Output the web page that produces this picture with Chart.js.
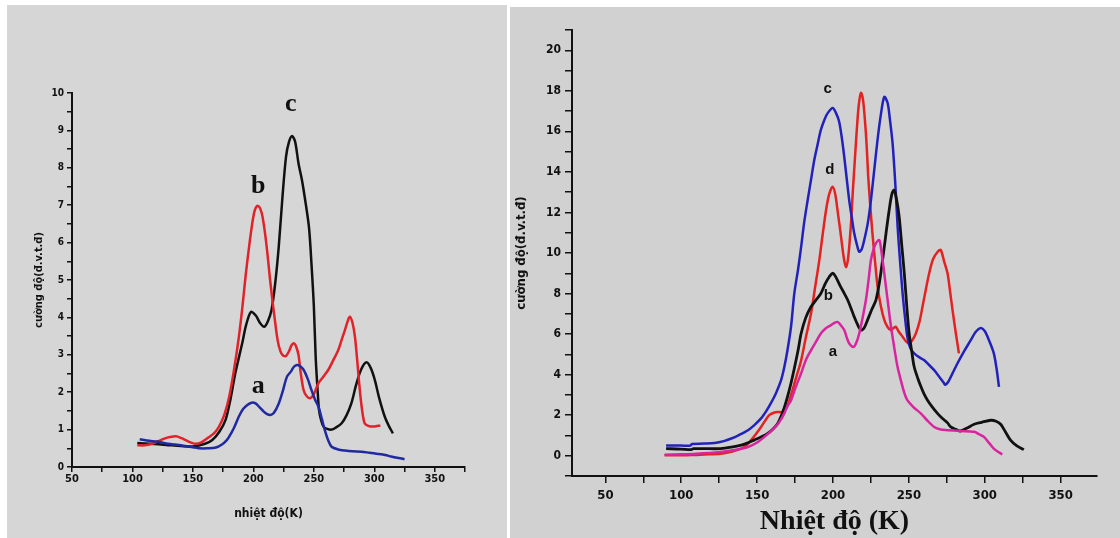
<!DOCTYPE html>
<html>
<head>
<meta charset="utf-8">
<script src="https://cdn.jsdelivr.net/npm/chart.js@4"></script>
<style>
  body { margin: 0; background: #fff; width: 1120px; height: 538px; position: relative; overflow: hidden; }
  #bgLeft { position: absolute; left: 7px; top: 5px; width: 500px; height: 533px; background: #d6d6d6; }
  #bgRight { position: absolute; left: 510px; top: 7px; width: 610px; height: 531px; background: #d1d1d1; }
  canvas { position: absolute; top: 0; }
  #left { left: 0; }
  #right { left: 510px; }
</style>
</head>
<body>
<div id="bgLeft"></div>
<div id="bgRight"></div>
<canvas id="left" width="510" height="538"></canvas>
<canvas id="right" width="610" height="538"></canvas>
<script>
// ---- left panel (3 curves) ----
const leftTempsA = [106, 114, 120, 127.8, 135, 142, 150, 155, 162, 169, 174, 178, 180, 184, 188, 191.5, 195, 198.5, 201.8, 205, 208.6, 211, 214, 217, 221, 224.5, 227.7, 231, 233.5, 236, 238.5, 241.5, 245, 248, 251, 253.8, 256.5, 259, 262, 264.7, 270, 275.7, 282, 289.4, 296, 303, 309, 314, 320, 325];
const leftValsA = [0.74, 0.7, 0.68, 0.63, 0.6, 0.57, 0.53, 0.5, 0.5, 0.52, 0.6, 0.72, 0.81, 1.05, 1.35, 1.55, 1.66, 1.72, 1.7, 1.6, 1.48, 1.42, 1.39, 1.45, 1.7, 2.05, 2.41, 2.55, 2.68, 2.73, 2.7, 2.6, 2.35, 2.06, 1.8, 1.61, 1.3, 0.99, 0.7, 0.54, 0.47, 0.44, 0.42, 0.41, 0.38, 0.35, 0.32, 0.28, 0.24, 0.21];

const leftTempsB = [104, 110, 116.8, 122, 126.4, 131, 136, 140, 144, 148, 152.5, 157, 163.4, 168, 171.6, 176, 180, 184, 188, 191, 193.5, 196.5, 199, 201, 203, 205, 207, 209, 211.3, 213.5, 215.4, 217.5, 220, 222.3, 224.5, 227, 229.5, 231.5, 233.2, 235, 237.3, 239, 241.5, 244, 247, 250, 253.8, 258, 262, 266, 270.2, 273, 275.7, 278, 279.8, 282, 284, 286, 288, 290, 292, 295, 299, 303, 305];
const leftValsB = [0.58, 0.58, 0.63, 0.7, 0.76, 0.8, 0.82, 0.78, 0.72, 0.66, 0.62, 0.66, 0.8, 0.92, 1.08, 1.4, 1.88, 2.6, 3.48, 4.3, 5.09, 5.9, 6.5, 6.85, 6.98, 6.95, 6.78, 6.4, 5.8, 5.1, 4.55, 4.0, 3.4, 3.1, 2.98, 2.97, 3.1, 3.25, 3.31, 3.25, 3.0, 2.55, 2.06, 1.9, 1.84, 1.95, 2.24, 2.42, 2.6, 2.85, 3.13, 3.4, 3.66, 3.9, 4.02, 3.85, 3.48, 2.8, 2.06, 1.5, 1.17, 1.1, 1.08, 1.1, 1.1];

const leftTempsC = [104, 115, 128, 140, 150, 160, 166, 172, 177, 181, 185, 190.7, 194, 198, 202, 205.5, 209, 212, 215, 218, 221, 224, 227, 229.5, 232, 234.5, 237.4, 240, 243, 246, 248, 250, 251.5, 253, 254.3, 256, 258, 261, 264.7, 268, 273, 277, 281, 285, 289, 293.5, 297, 300.4, 304, 308.6, 312, 315.4];
const leftValsC = [0.64, 0.62, 0.59, 0.56, 0.55, 0.62, 0.72, 0.95, 1.26, 1.8, 2.5, 3.3, 3.8, 4.15, 4.05, 3.85, 3.75, 3.9, 4.2, 4.9, 5.9, 7.2, 8.3, 8.7, 8.85, 8.7, 8.1, 7.7, 7.1, 6.4, 5.45, 4.3, 2.95, 2.1, 1.52, 1.25, 1.08, 1.02, 1.0, 1.05, 1.17, 1.38, 1.7, 2.2, 2.6, 2.8, 2.65, 2.33, 1.85, 1.35, 1.1, 0.9];

const leftCurveNames = ['a', 'b', 'c'];
const leftLabelX = [204, 204, 231];
const leftLabelY = [2.15, 7.5, 9.7];

// ---- right panel (4 curves) ----
const rightTempsA = [89, 100, 110, 126, 135, 144, 150, 154.8, 159, 163.6, 165.8, 168, 170, 172.4, 175.5, 179, 182, 185.5, 189, 192, 195.5, 198.7, 201, 203, 205, 207.4, 209, 210.7, 213.6, 215.5, 217.3, 219.5, 221.7, 223.5, 225, 226.8, 228.3, 230.5, 231.7, 232.7, 234.3, 236, 238, 240.3, 242.5, 244.7, 247, 249, 253, 258, 262, 266.7, 271, 275.5, 284, 293, 296.5, 299.5, 303, 306, 309, 311.6];
const rightValsA = [0.05, 0.07, 0.1, 0.19, 0.28, 0.43, 0.65, 0.93, 1.2, 1.55, 1.8, 2.1, 2.45, 2.74, 3.4, 4.06, 4.7, 5.2, 5.65, 6.03, 6.3, 6.44, 6.55, 6.6, 6.45, 6.2, 5.85, 5.54, 5.37, 5.6, 6.03, 6.8, 7.68, 8.7, 9.65, 10.2, 10.48, 10.64, 10.2, 9.65, 8.7, 7.68, 6.5, 5.37, 4.4, 3.73, 3.1, 2.74, 2.4, 2.08, 1.75, 1.42, 1.29, 1.26, 1.22, 1.18, 1.05, 0.93, 0.62, 0.35, 0.18, 0.07];

const rightTempsB = [90, 100, 106.6, 108, 115, 126, 133, 139.5, 144, 148, 152.5, 157, 160.5, 163.6, 165.8, 168, 170, 172.4, 174.5, 177, 179, 182, 185.5, 188.5, 192, 195, 197.6, 200, 202, 205, 207.5, 209.7, 212, 214, 216, 218.4, 220.5, 222.8, 225.5, 228.3, 230.5, 232.7, 235, 237, 238.8, 240.3, 242, 243.6, 245.3, 247, 248.6, 250.2, 252, 253.5, 256, 258, 260, 262.3, 265.5, 269, 272, 275.5, 277.6, 281, 284, 288, 293, 298, 304, 307.5, 310.5, 313.5, 317, 321, 325.8];
const rightValsB = [0.35, 0.33, 0.3, 0.35, 0.35, 0.35, 0.42, 0.52, 0.64, 0.77, 0.92, 1.1, 1.32, 1.59, 1.95, 2.4, 2.9, 3.6, 4.3, 5.2, 6.03, 6.8, 7.35, 7.65, 8.0, 8.5, 8.83, 9.0, 8.8, 8.34, 8.0, 7.68, 7.25, 6.85, 6.5, 6.2, 6.3, 6.7, 7.2, 7.68, 8.5, 9.65, 11.0, 12.1, 12.9, 13.1, 12.6, 11.8, 10.4, 9.0, 7.4, 6.03, 5.1, 4.39, 3.8, 3.4, 3.05, 2.74, 2.4, 2.08, 1.85, 1.62, 1.42, 1.3, 1.22, 1.35, 1.55, 1.65, 1.75, 1.7, 1.55, 1.2, 0.77, 0.5, 0.3];

const rightTempsC = [90, 100, 106, 107, 115, 122, 128, 133, 138, 144, 148, 152.6, 156, 159, 162.5, 165.8, 168, 170, 172.4, 174.5, 177, 179, 181, 183.3, 185.5, 187.7, 190, 192, 194.5, 196.5, 199.8, 202, 204, 205.8, 207.4, 209, 210.7, 212.5, 214, 215.8, 217.3, 219, 220.6, 223, 225, 227.2, 229.4, 231.5, 233.8, 236, 237.5, 239.3, 241, 242.6, 244.3, 245.9, 247.5, 249, 251, 253.5, 257, 260, 263, 266.7, 270, 273, 274, 276, 279, 282, 286, 290.8, 294, 297.4, 300, 302.8, 306, 307.8, 309.4];
const rightValsC = [0.5, 0.5, 0.5, 0.58, 0.6, 0.63, 0.72, 0.85, 1.02, 1.26, 1.5, 1.84, 2.2, 2.58, 3.1, 3.73, 4.4, 5.2, 6.4, 8.0, 9.2, 10.3, 11.5, 12.6, 13.6, 14.6, 15.4, 16.07, 16.6, 16.9, 17.15, 16.9, 16.5, 15.7, 14.76, 13.7, 12.6, 11.7, 10.97, 10.4, 10.06, 10.2, 10.64, 11.5, 12.6, 14.1, 15.6, 16.8, 17.7, 17.4, 16.6, 15.4, 13.5, 11.3, 9.5, 8.0, 6.8, 5.87, 5.3, 5.05, 4.85, 4.72, 4.5, 4.22, 3.9, 3.6, 3.5, 3.65, 4.1, 4.55, 5.1, 5.7, 6.1, 6.3, 6.15, 5.7, 5.05, 4.3, 3.4];

const rightTempsD = [89, 100, 106.6, 115, 126, 133, 139.5, 143, 146, 149.5, 152.6, 155.5, 158, 161, 163.6, 166, 168, 170.5, 172.4, 175.5, 179, 182, 185.5, 188, 191, 193, 195.4, 197.5, 199.8, 201.5, 203, 204.8, 206.4, 207.5, 208.6, 209.7, 210.7, 212, 213, 214.5, 215.8, 217, 218.4, 219.7, 221, 222.2, 223.2, 224.6, 226, 227.7, 229.4, 231.5, 233.8, 236, 238, 240, 241.4, 243.5, 245.9, 248, 250, 252.3, 254.6, 257, 259, 261.2, 263.4, 266, 269, 271, 273.2, 275.5, 277, 278.8, 281, 283];
const rightValsD = [0.02, 0.02, 0.03, 0.06, 0.1, 0.2, 0.35, 0.52, 0.77, 1.1, 1.42, 1.75, 2.0, 2.12, 2.16, 2.15, 2.25, 2.55, 3.0, 3.8, 4.7, 5.8, 7.0, 8.2, 9.65, 10.8, 12.1, 12.9, 13.27, 12.9, 12.1, 11.1, 10.15, 9.6, 9.3, 9.6, 10.3, 11.6, 12.95, 14.7, 16.2, 17.3, 17.9, 17.6, 16.6, 15.3, 13.8, 12.3, 10.97, 9.6, 8.34, 7.4, 6.7, 6.35, 6.2, 6.3, 6.36, 6.1, 5.87, 5.65, 5.54, 5.7, 6.03, 6.6, 7.35, 8.2, 9.0, 9.7, 10.06, 10.15, 9.6, 9.0, 8.2, 7.18, 6.03, 5.05];

const rightCurveNames = ['a', 'b', 'c', 'd'];
const rightLabelX = [200, 197, 196.5, 198];
const rightLabelY = [5.1, 7.9, 18.1, 14.1];

const xTickLabels = [50, 100, 150, 200, 250, 300, 350];
const leftYTickLabels = [0, 1, 2, 3, 4, 5, 6, 7, 8, 9, 10];
const rightYTickLabels = [0, 2, 4, 6, 8, 10, 12, 14, 16, 18, 20];

const tickFont = "'DejaVu Sans Condensed', 'Liberation Sans Narrow', 'Liberation Sans', sans-serif";

function toPoints(temps, vals) {
    return temps.map((t, i) => ({x: t, y: vals[i]}));
}

function curve(temps, vals, color, width) {
    return {
        data: toPoints(temps, vals),
        borderColor: color,
        borderWidth: width,
        pointRadius: 0,
        tension: 0.3,
        fill: false,
    };
}

// draws the a/b/c/d letters next to the curves
const curveLabels = {
    id: 'curveLabels',
    afterDatasetsDraw(chart, args, opts) {
        const ctx = chart.ctx;
        const xs = chart.scales.x, ys = chart.scales.y;
        ctx.save();
        ctx.fillStyle = '#111';
        ctx.font = opts.font;
        ctx.textAlign = 'center';
        ctx.textBaseline = 'middle';
        opts.names.forEach((n, i) => {
            ctx.fillText(n, xs.getPixelForValue(opts.xs[i]), ys.getPixelForValue(opts.ys[i]));
        });
        ctx.restore();
    }
};

function axisOptions(cfg) {
    return {
        type: 'linear',
        min: cfg.min,
        max: cfg.max,
        border: {display: true, color: '#111', width: 2},
        grid: {drawOnChartArea: false, drawTicks: true, tickLength: cfg.tickLength, color: '#111', lineWidth: 1.5},
        afterBuildTicks: (scale) => {
            scale.ticks = scale.ticks.filter(t => Math.abs(t.value / cfg.step - Math.round(t.value / cfg.step)) < 1e-6);
        },
        afterFit: (scale) => {
            if (scale.isHorizontal()) {
                scale.height = cfg.size;
            } else {
                scale.width = cfg.size;
            }
        },
        ticks: {
            stepSize: cfg.step,
            autoSkip: false,
            maxRotation: 0,
            padding: cfg.padding,
            color: '#111',
            font: {family: tickFont, size: cfg.fontSize, weight: 'bold'},
            callback: (value) => cfg.labels.includes(value) ? String(value) : '',
        },
        title: cfg.title,
    };
}

new Chart(document.getElementById('left'), {
    type: 'line',
    data: {
        datasets: [
            curve(leftTempsA, leftValsA, '#1f2aa0', 2.5),
            curve(leftTempsB, leftValsB, '#e0222a', 2.5),
            curve(leftTempsC, leftValsC, '#111111', 2.5),
        ],
    },
    options: {
        responsive: false,
        animation: false,
        devicePixelRatio: 1,
        layout: {padding: {left: 0, top: 93, right: 45, bottom: 0}},
        plugins: {
            legend: {display: false},
            tooltip: {enabled: false},
            curveLabels: {
                names: leftCurveNames, xs: leftLabelX, ys: leftLabelY,
                font: "bold 26px 'Liberation Serif', 'Times New Roman', serif",
            },
        },
        scales: {
            x: axisOptions({
                min: 50, max: 375, step: 25, tickLength: 5, padding: 1, size: 71, fontSize: 11,
                labels: xTickLabels,
                title: {
                    display: true, text: 'nhiệt độ(K)', color: '#111',
                    font: {family: tickFont, size: 12, weight: 'bold'},
                    padding: {top: 0, bottom: 17},
                },
            }),
            y: axisOptions({
                min: 0, max: 10, step: 0.5, tickLength: 5, padding: 3, size: 72, fontSize: 10,
                labels: leftYTickLabels,
                title: {
                    display: true, text: 'cường độ(đ.v.t.đ)', color: '#111',
                    font: {family: tickFont, size: 11, weight: 'bold'},
                    padding: {top: 33, bottom: 0},
                },
            }),
        },
    },
    plugins: [curveLabels],
});

new Chart(document.getElementById('right'), {
    type: 'line',
    data: {
        datasets: [
            curve(rightTempsA, rightValsA, '#d8259f', 2.5),
            curve(rightTempsB, rightValsB, '#111111', 2.8),
            curve(rightTempsC, rightValsC, '#2222bb', 2.5),
            curve(rightTempsD, rightValsD, '#e32222', 2.5),
        ],
    },
    options: {
        responsive: false,
        animation: false,
        devicePixelRatio: 1,
        layout: {padding: {left: 0, top: 30, right: 23, bottom: 0}},
        plugins: {
            legend: {display: false},
            tooltip: {enabled: false},
            curveLabels: {
                names: rightCurveNames, xs: rightLabelX, ys: rightLabelY,
                font: "bold 15px 'Liberation Sans', Arial, sans-serif",
            },
        },
        scales: {
            x: axisOptions({
                min: 28, max: 374, step: 25, tickLength: 7, padding: 5, size: 62, fontSize: 13,
                labels: xTickLabels,
                title: {
                    display: true, text: 'Nhiệt độ (K)', color: '#111',
                    font: {family: "'Liberation Serif', 'Times New Roman', serif", size: 28, weight: 'bold', lineHeight: 1},
                    padding: {top: 0, bottom: 2},
                },
            }),
            y: axisOptions({
                min: -1, max: 21, step: 1, tickLength: 7, padding: 4, size: 62, fontSize: 12,
                labels: rightYTickLabels,
                title: {
                    display: true, text: 'cường độ(đ.v.t.đ)', color: '#111',
                    font: {family: tickFont, size: 13, weight: 'bold'},
                    padding: {top: 4, bottom: 0},
                },
            }),
        },
    },
    plugins: [curveLabels],
});
</script>
</body>
</html>
